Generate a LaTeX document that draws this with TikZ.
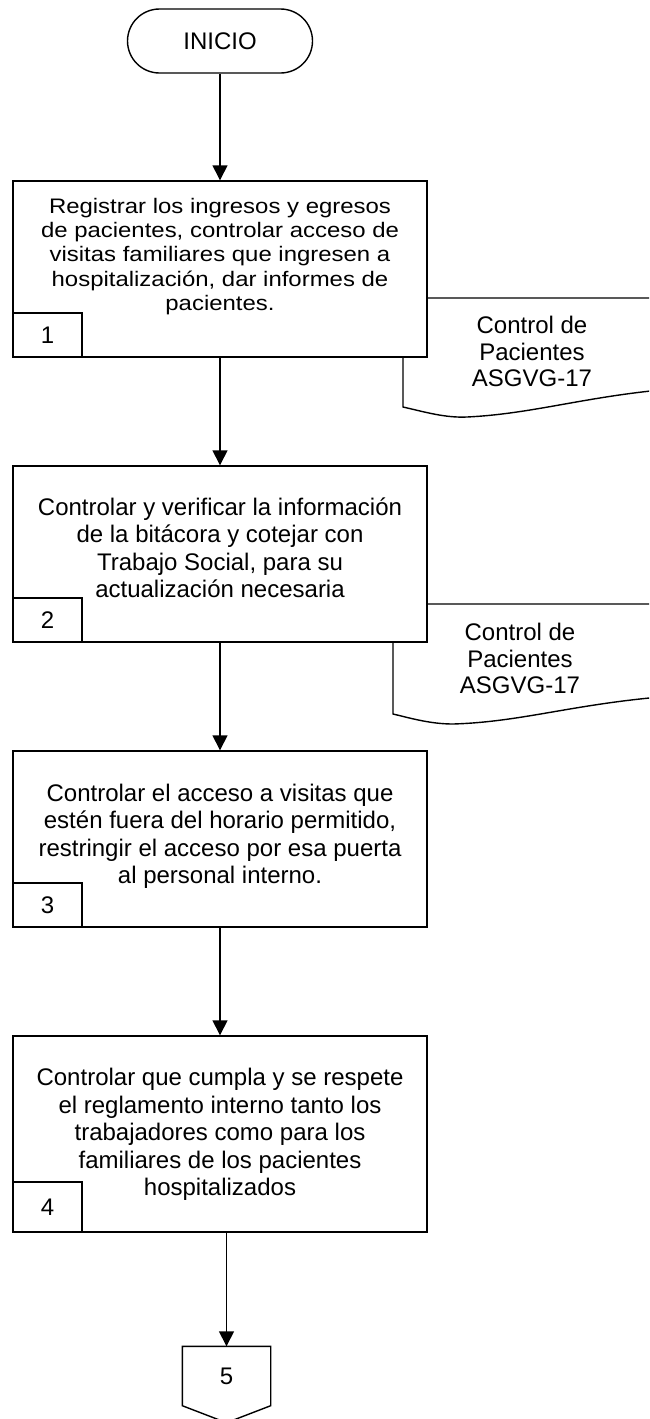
\documentclass[tikz,border=0pt]{standalone}
\usepackage{fontspec}
\setmainfont{Liberation Sans}
\newfontfamily\wideface[FakeStretch=1.14]{Liberation Sans}
\usetikzlibrary{arrows.meta}

\begin{document}
\begin{tikzpicture}[x=1pt, y=-1pt, line width=1.4pt,
    terminal/.style={draw, rounded corners=32pt, minimum width=185pt,
                     minimum height=64pt, font=\fontsize{24}{28}\selectfont},
    procbox/.style={draw, fill=white, minimum width=414pt, minimum height=176pt},
    stepno/.style={draw, fill=white, anchor=south west, minimum width=69pt,
                   minimum height=44pt, font=\fontsize{24}{28}\selectfont},
    boxtext/.style={align=center, anchor=base, inner sep=0pt,
                    font=\fontsize{24}{27.5}\selectfont},
    doctext/.style={align=center, anchor=base, inner sep=0pt,
                    font=\fontsize{24}{26.5}\selectfont},
    docshape/.style={draw, fill=white},
    arr/.style={-{Triangle[length=15pt, width=15pt]}}
  ]
    \useasboundingbox (0,0) rectangle (649,1419);
    \clip (0,0) rectangle (649,1419);

    % documents, drawn first so that the boxes cover them
    \draw[docshape] (403,298) -- (660,298) -- (660,390)
      .. controls (580,398) and (530,414) .. (467,417)
      .. controls (445,418) and (425,412) .. (403,407) -- cycle;
    \draw[docshape] (393,604) -- (660,604) -- (660,697)
      .. controls (570,705) and (520,722) .. (453,724)
      .. controls (430,724) and (410,718) .. (393,714) -- cycle;
    \node[doctext] (d1) at (532,386.5) {Control de\\Pacientes\\ASGVG-17};
    \node[doctext] (d2) at (520,693.5) {Control de\\Pacientes\\ASGVG-17};

    \node[terminal] (inicio) at (220,41) {INICIO};

    \node[procbox] (p1) at (220,269) {};
    \node[procbox] (p2) at (220,554) {};
    \node[procbox] (p3) at (220,839) {};
    \node[procbox, minimum height=196pt] (p4) at (220,1134) {};

    \node[stepno] (n1) at (p1.south west) {1};
    \node[stepno] (n2) at (p2.south west) {2};
    \node[stepno] (n3) at (p3.south west) {3};
    \node[stepno, minimum height=50pt] (n4) at (p4.south west) {4};

    \node[boxtext, font=\wideface\fontsize{21}{24.3}\selectfont] (t1) at (220,310.5)
      {Registrar los ingresos y egresos\\de pacientes, controlar acceso de\\visitas familiares que ingresen a\\hospitalización, dar informes de\\pacientes.};
    \node[boxtext] (t2) at (220,597.5)
      {Controlar y verificar la información\\de la bitácora y cotejar con\\Trabajo Social, para su\\actualización necesaria};
    \node[boxtext] (t3) at (220,883.5)
      {Controlar el acceso a visitas que\\estén fuera del horario permitido,\\restringir el acceso por esa puerta\\al personal interno.};
    \node[boxtext] (t4) at (220,1195.5)
      {Controlar que cumpla y se respete\\el reglamento interno tanto los\\trabajadores como para los\\familiares de los pacientes\\hospitalizados};

    % off-page connector
    \node[minimum width=87pt, minimum height=58pt, font=\fontsize{24}{28}\selectfont]
      (c5) at (226.5,1376) {5};
    \draw (c5.north west) -- (c5.north east) -- (c5.south east)
      -- ([yshift=-17pt]c5.south) -- (c5.south west) -- cycle;

    \draw[arr] (inicio.south) -- (p1.north);
    \draw[arr] (p1.south) -- (p2.north);
    \draw[arr] (p2.south) -- (p3.north);
    \draw[arr] (p3.south) -- (p4.north);
    \draw[arr] (p4.south -| c5.north) -- (c5.north);
\end{tikzpicture}
\end{document}
